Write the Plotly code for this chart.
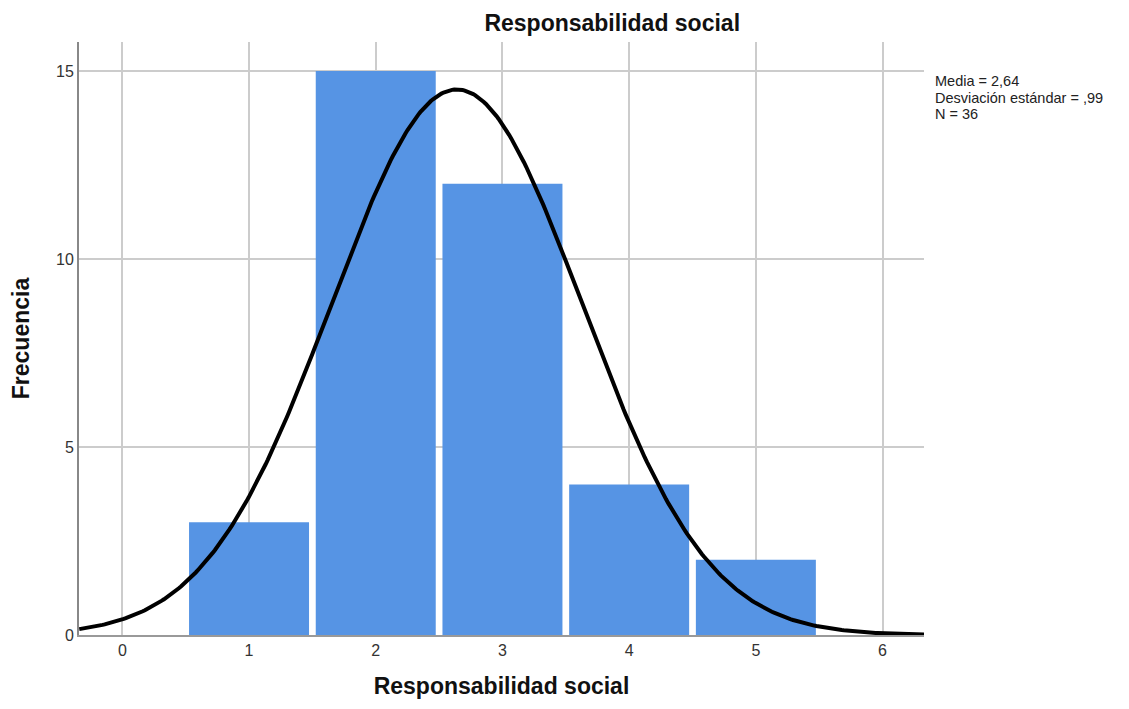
import numpy as np
import plotly.graph_objects as go

categories = [1, 2, 3, 4, 5]
frequencies = [3, 15, 12, 4, 2]
mean_val = 2.64
sd_val = 0.99
n_val = 36
x_ticks = [0, 1, 2, 3, 4, 5, 6]
y_ticks = [0, 5, 10, 15]
stats_lines = ["Media = 2,64", "Desviación estándar = ,99", "N = 36"]

xs = np.linspace(-0.34, 6.33, 400)
ys = n_val * 1.0 / (sd_val * np.sqrt(2 * np.pi)) * np.exp(-0.5 * ((xs - mean_val) / sd_val) ** 2)

fig = go.Figure()
fig.add_trace(go.Bar(x=categories, y=frequencies, width=0.947,
                     marker=dict(color="#5694e4", line=dict(width=0)),
                     hoverinfo="x+y", showlegend=False))
fig.add_trace(go.Scatter(x=xs, y=ys, mode="lines",
                         line=dict(color="black", width=4),
                         showlegend=False, hoverinfo="skip"))

font_family = "Liberation Sans, Arial, sans-serif"
W, H = 1121, 701
MT, MB = 34, 74
fig.update_layout(
    width=W, height=H,
    margin=dict(l=71, r=205, t=MT, b=MB),
    plot_bgcolor="white", paper_bgcolor="white",
    font=dict(family=font_family, color="#222"),
    title=dict(text="<b>Responsabilidad social</b>", x=0.539, xanchor="center",
               y=0.978, yanchor="middle", font=dict(size=23, color="#111")),
    xaxis=dict(range=[-0.342, 6.327], tickvals=x_ticks, ticktext=[str(t) for t in x_ticks],
               showgrid=True, gridcolor="#cccccc", gridwidth=1.5,
               showline=True, linecolor="#999999", linewidth=2, zeroline=False,
               ticks="", tickfont=dict(size=16, color="#333"),
               title=dict(text="<b>Responsabilidad social</b>", font=dict(size=23, color="#111"), standoff=20)),
    yaxis=dict(range=[0, 15.77], tickvals=y_ticks, ticktext=[str(t) for t in y_ticks],
               showgrid=True, gridcolor="#cccccc", gridwidth=1.5,
               showline=True, linecolor="#888888", linewidth=2, zeroline=False,
               ticks="", tickfont=dict(size=16, color="#333"),
               title=dict(text="<b>Frecuencia</b>", font=dict(size=23, color="#111"), standoff=20)),
    bargap=0.05,
)
plot_h = H - MT - MB
for i, line in enumerate(stats_lines):
    y_px = 81 - 8 + 16.5 * i  # centre of line, in figure pixels from top
    fig.add_annotation(
        xref="paper", yref="paper", x=1.012, y=1 - (y_px - MT) / plot_h,
        xanchor="left", yanchor="middle", borderpad=0,
        text=line, showarrow=False, align="left",
        font=dict(size=14.5, color="#222", family=font_family),
    )
fig.write_html("out.html")
